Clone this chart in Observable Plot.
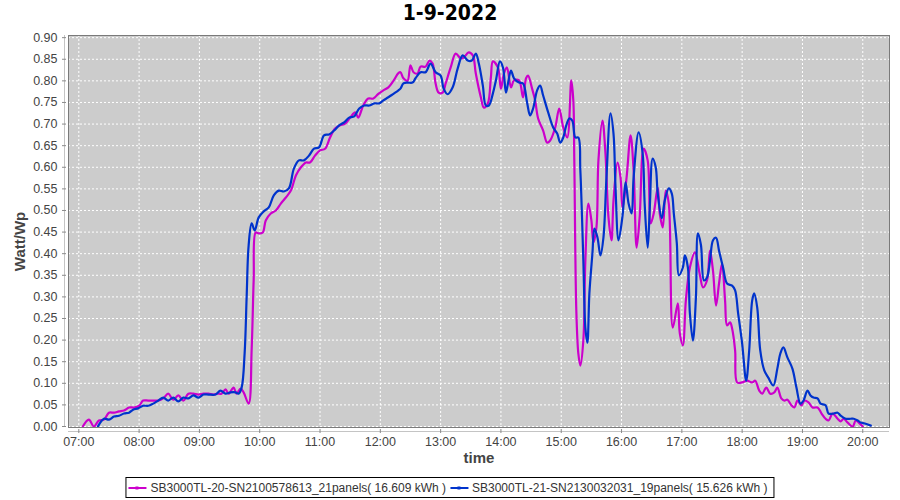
<!DOCTYPE html>
<html>
<head>
<meta charset="utf-8">
<script src="https://cdn.jsdelivr.net/npm/d3@7"></script>
<script src="https://cdn.jsdelivr.net/npm/@observablehq/plot@0.6"></script>
<style>
  body{margin:0;background:#fff;width:900px;height:500px;position:relative;overflow:hidden;font-family:"Liberation Sans",Arial,sans-serif}
  #title{position:absolute;left:0;top:0;width:900px;text-align:center;font-family:"DejaVu Sans Condensed","DejaVu Sans",sans-serif;font-stretch:condensed;font-weight:bold;font-size:21px;line-height:26px;color:#000}
  #chart{position:absolute;left:0;top:30px}
  #legend{position:absolute;top:477px;left:450px;transform:translateX(-50%);border:1px solid #000;height:19px;display:flex;align-items:center;padding:0 3px 0 1px;font-size:12px;color:#333;white-space:nowrap;background:#fff}
  #legend svg{display:block;margin-right:3px}
  #legend .item{display:flex;align-items:center;margin-right:3px}
</style>
</head>
<body>
<div id="title">1-9-2022</div>
<div id="chart"></div>
<div id="legend"></div>
<script>
const chartTitle = "1-9-2022";
const seriesNames = [
  "SB3000TL-20-SN2100578613_21panels( 16.609 kWh )",
  "SB3000TL-21-SN2130032031_19panels( 15.626 kWh )"
];
const seriesColors = ["#cc00cc", "#0033cc"];
const yTicks = [0,0.05,0.10,0.15,0.20,0.25,0.30,0.35,0.40,0.45,0.50,0.55,0.60,0.65,0.70,0.75,0.80,0.85,0.90];
const xTickHours = ["07:00","08:00","09:00","10:00","11:00","12:00","13:00","14:00","15:00","16:00","17:00","18:00","19:00","20:00"];
const xDomain = ["06:49.75","20:26.6"];
const yDomain = [-0.0023, 0.905];

// Series 1 (magenta) : time, Watt/Wp
const timesA = ["07:04","07:10","07:15","07:20","07:25","07:30","07:35","07:40","07:45","07:50","07:55","08:00","08:04","08:09","08:14","08:19","08:24","08:29","08:34","08:39","08:44","08:49","08:54","08:59","09:04","09:09","09:14","09:18","09:22","09:26","09:29","09:34","09:37","09:41","09:44","09:49","09:52","09:54","09:56","09:59","10:03","10:06","10:11","10:16","10:21","10:26","10:31","10:36","10:41","10:46","10:50","10:55","11:00","11:05","11:10","11:15","11:20","11:25","11:30","11:35","11:38","11:43","11:48","11:53","11:58","12:03","12:08","12:13","12:18","12:20","12:23","12:27","12:30","12:33","12:37","12:40","12:45","12:49","12:52","12:55","12:58","13:02","13:05","13:10","13:15","13:20","13:23","13:28","13:32","13:35","13:40","13:43","13:47","13:50","13:52","13:57","14:00","14:03","14:06","14:10","14:13","14:18","14:22","14:25","14:27","14:31","14:34","14:37","14:42","14:46","14:49","14:54","14:58","15:02","15:06","15:10","15:12","15:13","15:15","15:17","15:19","15:22","15:24","15:27","15:30","15:32","15:35","15:37","15:41","15:44","15:47","15:50","15:52","15:56","15:59","16:01","16:05","16:09","16:12","16:15","16:18","16:22","16:26","16:29","16:32","16:36","16:38","16:41","16:44","16:47","16:51","16:56","16:58","17:01","17:04","17:08","17:13","17:18","17:21","17:25","17:28","17:31","17:34","17:37","17:40","17:43","17:45","17:48","17:50","17:53","17:55","18:00","18:05","18:10","18:13","18:17","18:20","18:24","18:28","18:32","18:35","18:39","18:42","18:45","18:49","18:52","18:55","18:59","19:02","19:06","19:10","19:15","19:19","19:23","19:26","19:30","19:35","19:38","19:41","19:45","19:50","19:53","19:56","20:00"];
const valuesA = [0.000,0.016,0.000,0.014,0.016,0.032,0.032,0.035,0.037,0.044,0.044,0.048,0.060,0.060,0.060,0.060,0.065,0.076,0.062,0.072,0.060,0.076,0.076,0.074,0.076,0.076,0.074,0.076,0.076,0.086,0.076,0.090,0.076,0.088,0.079,0.053,0.180,0.340,0.449,0.447,0.449,0.477,0.493,0.500,0.516,0.530,0.546,0.581,0.600,0.611,0.611,0.627,0.639,0.643,0.669,0.690,0.697,0.701,0.715,0.727,0.715,0.743,0.759,0.759,0.770,0.778,0.785,0.800,0.818,0.820,0.806,0.800,0.836,0.820,0.817,0.833,0.833,0.847,0.840,0.794,0.773,0.773,0.794,0.831,0.863,0.852,0.854,0.866,0.859,0.817,0.762,0.738,0.748,0.808,0.845,0.831,0.782,0.817,0.831,0.785,0.801,0.801,0.762,0.806,0.812,0.782,0.755,0.713,0.685,0.657,0.662,0.692,0.736,0.692,0.669,0.801,0.755,0.616,0.269,0.169,0.141,0.200,0.384,0.516,0.477,0.426,0.461,0.616,0.708,0.632,0.484,0.431,0.523,0.611,0.576,0.505,0.576,0.674,0.593,0.414,0.484,0.643,0.616,0.470,0.493,0.553,0.493,0.461,0.546,0.516,0.229,0.285,0.215,0.188,0.292,0.368,0.403,0.350,0.322,0.338,0.407,0.360,0.280,0.331,0.377,0.292,0.234,0.241,0.227,0.176,0.102,0.102,0.106,0.102,0.106,0.083,0.076,0.090,0.076,0.079,0.090,0.065,0.060,0.062,0.049,0.044,0.060,0.049,0.060,0.056,0.044,0.044,0.030,0.018,0.014,0.030,0.018,0.012,0.018,0.009,0.000,0.014,0.009,0.000];

// Series 2 (blue) : time, Watt/Wp
const timesB = ["07:19","07:25","07:30","07:35","07:40","07:45","07:50","07:54","07:59","08:04","08:09","08:14","08:19","08:24","08:29","08:34","08:39","08:44","08:49","08:54","08:59","09:04","09:09","09:16","09:21","09:26","09:31","09:36","09:39","09:42","09:45","09:47","09:49","09:52","09:55","09:59","10:04","10:09","10:14","10:19","10:24","10:29","10:34","10:39","10:44","10:49","10:54","10:59","11:04","11:09","11:14","11:19","11:24","11:29","11:34","11:39","11:44","11:49","11:54","11:59","12:03","12:08","12:13","12:18","12:20","12:23","12:27","12:32","12:35","12:40","12:45","12:50","12:55","13:00","13:03","13:07","13:12","13:17","13:22","13:27","13:31","13:35","13:38","13:42","13:45","13:48","13:52","13:55","13:59","14:02","14:05","14:07","14:10","14:13","14:18","14:22","14:26","14:29","14:32","14:36","14:39","14:42","14:47","14:52","14:56","14:59","15:02","15:05","15:08","15:11","15:14","15:17","15:19","15:22","15:24","15:26","15:28","15:31","15:33","15:36","15:39","15:42","15:45","15:49","15:52","15:54","15:57","16:01","16:04","16:07","16:10","16:12","16:17","16:21","16:23","16:26","16:28","16:31","16:34","16:36","16:40","16:43","16:47","16:50","16:52","16:55","16:57","17:01","17:03","17:06","17:08","17:11","17:14","17:16","17:19","17:22","17:25","17:28","17:31","17:34","17:37","17:41","17:45","17:50","17:53","17:56","18:00","18:04","18:07","18:10","18:12","18:15","18:18","18:22","18:26","18:31","18:35","18:38","18:41","18:45","18:50","18:54","18:58","19:01","19:05","19:08","19:11","19:15","19:18","19:23","19:26","19:31","19:35","19:38","19:43","19:48","19:51","19:55","19:58","20:02","20:08"];
const valuesB = [0.000,0.018,0.016,0.023,0.025,0.030,0.032,0.039,0.042,0.048,0.048,0.053,0.060,0.067,0.060,0.067,0.058,0.067,0.065,0.072,0.067,0.074,0.074,0.074,0.083,0.076,0.079,0.079,0.076,0.090,0.170,0.300,0.420,0.470,0.454,0.484,0.498,0.507,0.535,0.546,0.544,0.551,0.597,0.616,0.616,0.627,0.643,0.646,0.674,0.676,0.685,0.697,0.704,0.715,0.718,0.736,0.743,0.743,0.748,0.748,0.755,0.762,0.770,0.778,0.782,0.794,0.796,0.796,0.806,0.820,0.820,0.840,0.820,0.812,0.782,0.769,0.785,0.829,0.859,0.847,0.847,0.863,0.840,0.789,0.743,0.743,0.771,0.801,0.845,0.831,0.773,0.794,0.824,0.806,0.796,0.794,0.750,0.720,0.736,0.778,0.789,0.766,0.727,0.692,0.678,0.657,0.669,0.697,0.713,0.708,0.669,0.669,0.593,0.384,0.229,0.194,0.308,0.400,0.458,0.438,0.396,0.438,0.576,0.725,0.678,0.553,0.431,0.488,0.565,0.516,0.493,0.576,0.681,0.632,0.516,0.414,0.500,0.620,0.600,0.539,0.482,0.523,0.551,0.539,0.493,0.424,0.350,0.368,0.396,0.368,0.262,0.199,0.299,0.447,0.420,0.338,0.345,0.384,0.431,0.437,0.407,0.368,0.331,0.326,0.315,0.262,0.192,0.106,0.176,0.292,0.308,0.275,0.176,0.130,0.113,0.095,0.134,0.169,0.183,0.160,0.134,0.090,0.053,0.060,0.083,0.072,0.067,0.065,0.053,0.049,0.030,0.030,0.032,0.025,0.018,0.018,0.018,0.014,0.009,0.007,0.002];

// --- build ---
function toDate(s){
  const [h, m] = s.split(":");
  const mm = parseFloat(m);
  return new Date(Date.UTC(2022, 8, 1, +h, Math.floor(mm), Math.round((mm % 1) * 60)));
}
const data = [];
timesA.forEach((t, i) => data.push({series: seriesNames[0], time: toDate(t), value: valuesA[i]}));
timesB.forEach((t, i) => data.push({series: seriesNames[1], time: toDate(t), value: valuesB[i]}));
const xTicks = xTickHours.map(toDate);
const xMin = toDate(xDomain[0]), xMax = toDate(xDomain[1]);

const chart = Plot.plot({
  width: 900,
  height: 445,
  marginTop: 5,
  marginLeft: 68,
  marginRight: 11,
  marginBottom: 48,
  style: {fontFamily: '"Liberation Sans", Arial, sans-serif', fontSize: "12.5px", color: "#444", background: "transparent", overflow: "visible"},
  x: {type: "utc", domain: [xMin, xMax]},
  y: {domain: yDomain},
  color: {domain: seriesNames, range: seriesColors},
  marks: [
    Plot.frame({fill: "#cccccc", stroke: null}),
    Plot.gridX(xTicks, {stroke: "#ffffff", strokeOpacity: 1, strokeDasharray: "2,2", strokeWidth: 1}),
    Plot.gridY(yTicks, {stroke: "#ffffff", strokeOpacity: 1, strokeDasharray: "2,2", strokeWidth: 1}),
    Plot.line(data, {x: "time", y: "value", z: "series", stroke: "series", strokeWidth: 2.2, curve: "catmull-rom"}),
    Plot.frame({stroke: "#7a7a7a", strokeWidth: 1}),
    Plot.ruleX([xMin], {dx: -4, stroke: "#c4c4c4"}),
    Plot.ruleY([yDomain[0]], {dy: 4, stroke: "#c4c4c4"}),
    Plot.axisY(yTicks, {tickSize: 4, dx: -2, tickPadding: 5, tickFormat: d3.format(".2f"), stroke: "#8a8a8a", fill: "#444", label: null}),
    Plot.axisX(xTicks, {tickSize: 4, dy: 2, tickPadding: 4, tickFormat: d3.utcFormat("%H:%M"), stroke: "#8a8a8a", fill: "#444", label: null}),
    Plot.text(["time"], {frameAnchor: "bottom", dy: 35, fontSize: 15, fontWeight: "bold", fill: "#444"}),
    Plot.text(["Watt/Wp"], {frameAnchor: "left", textAnchor: "middle", dx: -48, dy: 10, rotate: -90, fontSize: 15, fontWeight: "bold", fill: "#444"})
  ]
});
document.getElementById("chart").appendChild(chart);

// legend
const legend = document.getElementById("legend");
seriesNames.forEach((name, i) => {
  const item = document.createElement("div");
  item.className = "item";
  item.innerHTML = `<svg width="20" height="10"><line x1="1" x2="19" y1="5" y2="5" stroke="${seriesColors[i]}" stroke-width="2.2"/><rect x="8" y="3.5" width="3" height="3" fill="${seriesColors[i]}"/></svg><span>${name}</span>`;
  legend.appendChild(item);
});
</script>
</body>
</html>
